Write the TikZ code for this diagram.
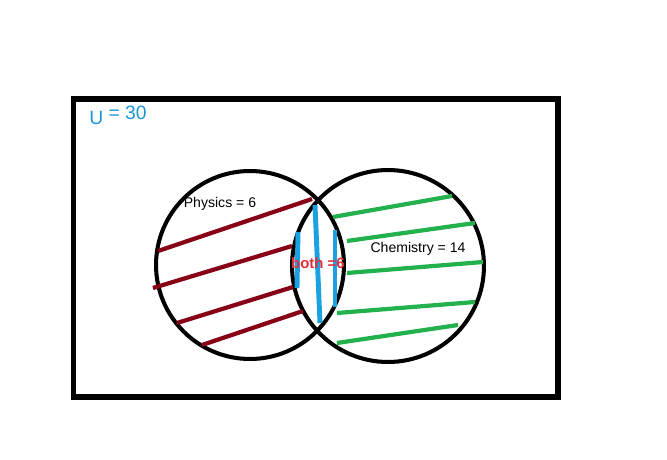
\documentclass[tikz,border=0pt]{standalone}
\usepackage{fontspec}
\setmainfont{Liberation Sans}
\usetikzlibrary{positioning}
\definecolor{hatchred}{HTML}{880015}
\definecolor{hatchblue}{HTML}{1AA2E0}
\definecolor{hatchgreen}{HTML}{22B14C}
\definecolor{labred}{HTML}{E0303C}
\definecolor{labblue}{HTML}{1A96D4}
\tikzset{
  setcircle/.style={draw, circle, line width=2.3pt, inner sep=0pt},
  redhatch/.style={hatchred, line width=2.4pt},
  bluehatch/.style={hatchblue, line width=2.8pt},
  greenhatch/.style={hatchgreen, line width=2.4pt},
  lab/.style={font=\fontsize{8}{9}\selectfont, inner sep=1pt},
}
\begin{document}
\begin{tikzpicture}[x=0.02cm, y=-0.02cm]
    \useasboundingbox (0,0) rectangle (667,460);
    \node[draw, line width=2.9pt, minimum width=9.7cm, minimum height=5.96cm, inner sep=0pt] (univ) at (315.5,248) {};
    \node[setcircle, minimum size=3.76cm] (phys) at (250,265) {};
    \node[setcircle, minimum size=3.84cm] (chem) at (388,266) {};
    % physics only
    \draw[redhatch] (158,251) -- (312,199);
    \draw[redhatch] (153,288) -- (292,246);
    \draw[redhatch] (177,323) -- (293,287);
    \draw[redhatch] (202,345) -- (303,311);
    % both
    \draw[bluehatch] (298,232) -- (297,288);
    \draw[bluehatch] (315,205) -- (320,323);
    \draw[bluehatch] (335,230) -- (335,307);
    % chemistry only
    \draw[greenhatch] (333,217) -- (452,196);
    \draw[greenhatch] (347,241) -- (475,223);
    \draw[greenhatch] (347,273) -- (483,262);
    \draw[greenhatch] (337,313) -- (475,302);
    \draw[greenhatch] (337,343) -- (458,325);
    \node[lab] (physlab) at (220,204) {Physics = 6};
    \node[lab] (chemlab) at (418,249) {Chemistry = 14};
    \node[lab, labred, font=\fontsize{8.5}{9}\selectfont\bfseries] (bothlab) at (318,263) {both =6};
    \node[labblue, font=\fontsize{11}{12}\selectfont, inner sep=0pt] (ulab) at (118,115) {U\raisebox{3pt}{ = 30}};
\end{tikzpicture}
\end{document}
